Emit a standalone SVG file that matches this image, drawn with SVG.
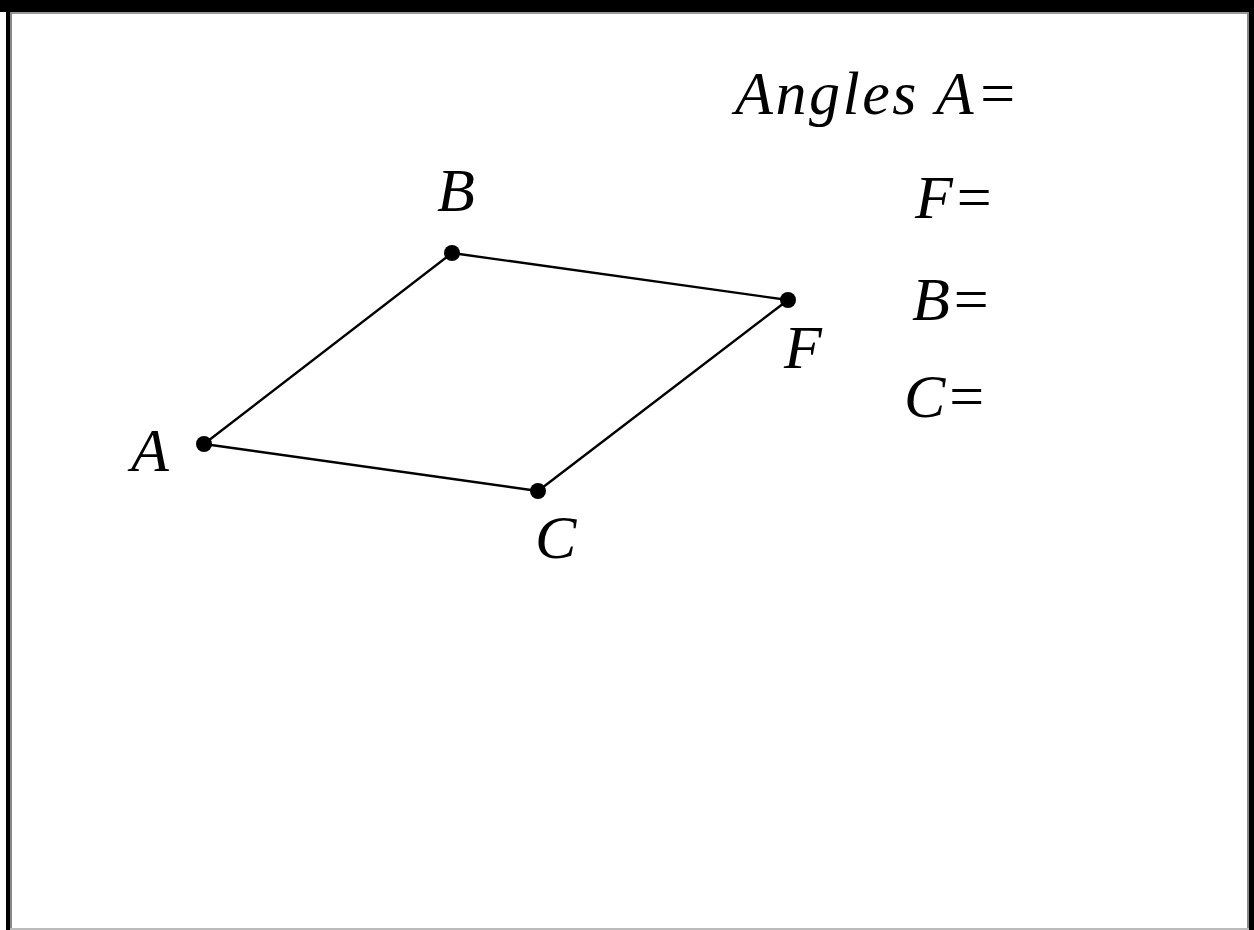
<svg xmlns="http://www.w3.org/2000/svg" width="1254" height="930" viewBox="0 0 1254 930">
<style>
.t{font-family:"Liberation Serif","Times New Roman",serif;font-style:italic;font-size:62px;fill:#000}
.e{stroke:#000;stroke-width:2.4;fill:none}
.d{fill:#000}
</style>
<rect x="0" y="0" width="1254" height="930" fill="#fff"/>
<rect x="0" y="0" width="1254" height="12" fill="#000"/>
<rect x="10" y="12" width="1239" height="2" fill="#999"/>
<rect x="6" y="12" width="4" height="918" fill="#000"/>
<rect x="10" y="12" width="2" height="918" fill="#888"/>
<rect x="1249" y="12" width="5" height="918" fill="#000"/>
<rect x="1247" y="12" width="2" height="918" fill="#888"/>
<rect x="10" y="928" width="1239" height="2" fill="#bbb"/>
<g id="connectors">
<line class="e" x1="204" y1="444" x2="452" y2="253"/>
<line class="e" x1="452" y1="253" x2="788" y2="300"/>
<line class="e" x1="788" y1="300" x2="538" y2="491"/>
<line class="e" x1="538" y1="491" x2="204" y2="444"/>
</g>
<g id="A"><circle class="d" cx="204" cy="444" r="8"/><text class="t" x="131" y="471">A</text></g>
<g id="B"><circle class="d" cx="452" cy="253" r="8"/><text class="t" x="437" y="211">B</text></g>
<g id="F"><circle class="d" cx="788" cy="300" r="8"/><text class="t" x="784" y="368">F</text></g>
<g id="C"><circle class="d" cx="538" cy="491" r="8"/><text class="t" x="535" y="558">C</text></g>
<g id="angles">
<text class="t" x="735" y="114" textLength="283" lengthAdjust="spacing">Angles A=</text>
<text class="t" x="915" y="218">F=</text>
<text class="t" x="912" y="320">B=</text>
<text class="t" x="904" y="417">C=</text>
</g>
</svg>
